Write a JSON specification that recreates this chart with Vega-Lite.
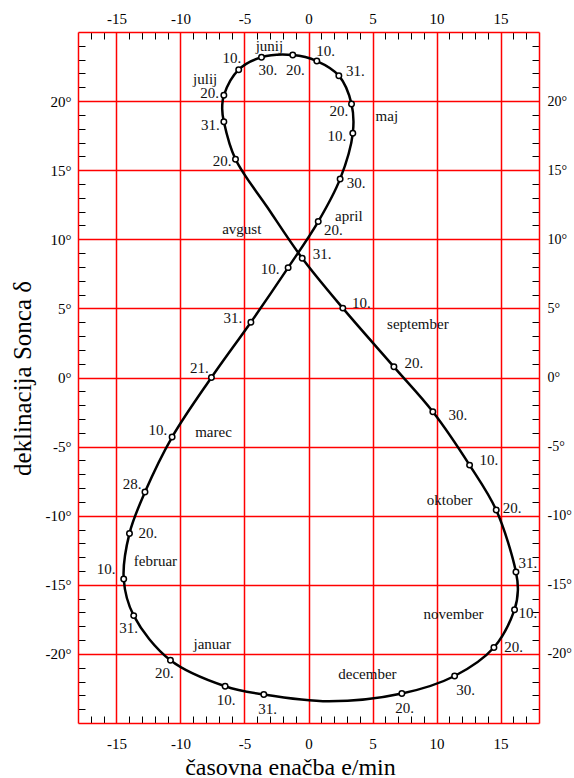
{
  "$schema": "https://vega.github.io/schema/vega-lite/v6.json",
  "width": 461,
  "height": 691,
  "autosize": {"type": "none"},
  "padding": {"left": 78, "top": 32, "right": 35, "bottom": 55},
  "background": "white",
  "config": {
    "view": {"stroke": null},
    "font": "Liberation Serif, DejaVu Serif, serif",
    "axis": {"labelFont": "Liberation Serif, DejaVu Serif, serif", "titleFont": "Liberation Serif, DejaVu Serif, serif"},
    "style": {
      "guide-label": {"font": "Liberation Serif, DejaVu Serif, serif"},
      "guide-title": {"font": "Liberation Serif, DejaVu Serif, serif"}
    }
  },
  "datasets": {
    "curve": [
      {"o": 1, "e": -3.49, "d": -22.94, "m": 1},
      {"o": 2, "e": -6.51, "d": -22.34, "m": 1},
      {"o": 3, "e": -10.78, "d": -20.46, "m": 1},
      {"o": 4, "e": -13.65, "d": -17.23, "m": 1},
      {"o": 5, "e": -14.43, "d": -14.58, "m": 1},
      {"o": 6, "e": -13.98, "d": -11.28, "m": 1},
      {"o": 7, "e": -12.77, "d": -8.29, "m": 1},
      {"o": 8, "e": -10.65, "d": -4.31, "m": 1},
      {"o": 9, "e": -7.58, "d": 0.0, "m": 1},
      {"o": 10, "e": -4.5, "d": 4.0, "m": 1},
      {"o": 11, "e": -1.59, "d": 7.95, "m": 1},
      {"o": 12, "e": 0.76, "d": 11.28, "m": 1},
      {"o": 13, "e": 2.47, "d": 14.37, "m": 1},
      {"o": 14, "e": 3.46, "d": 17.67, "m": 1},
      {"o": 15, "e": 3.36, "d": 19.79, "m": 1},
      {"o": 16, "e": 2.37, "d": 21.84, "m": 1},
      {"o": 17, "e": 0.65, "d": 22.9, "m": 1},
      {"o": 18, "e": -1.23, "d": 23.33, "m": 1},
      {"o": 19, "e": -3.67, "d": 23.17, "m": 1},
      {"o": 20, "e": -5.45, "d": 22.27, "m": 1},
      {"o": 21, "e": -6.61, "d": 20.42, "m": 1},
      {"o": 22, "e": -6.74, "d": 19.45, "m": 0},
      {"o": 23, "e": -6.61, "d": 18.51, "m": 1},
      {"o": 24, "e": -5.7, "d": 15.79, "m": 1},
      {"o": 25, "e": -3.2, "d": 12.3, "m": 0},
      {"o": 26, "e": -0.49, "d": 8.63, "m": 1},
      {"o": 27, "e": 2.68, "d": 5.02, "m": 1},
      {"o": 28, "e": 6.67, "d": 0.77, "m": 1},
      {"o": 29, "e": 9.71, "d": -2.48, "m": 1},
      {"o": 30, "e": 12.58, "d": -6.34, "m": 1},
      {"o": 31, "e": 14.66, "d": -9.59, "m": 1},
      {"o": 32, "e": 16.2, "d": -14.07, "m": 1},
      {"o": 33, "e": 16.35, "d": -15.4, "m": 0},
      {"o": 34, "e": 16.09, "d": -16.8, "m": 1},
      {"o": 35, "e": 14.48, "d": -19.54, "m": 1},
      {"o": 36, "e": 11.41, "d": -21.6, "m": 1},
      {"o": 37, "e": 7.29, "d": -22.87, "m": 1},
      {"o": 38, "e": 1.6, "d": -23.43, "m": 0},
      {"o": 39, "e": -3.49, "d": -22.94, "m": 0}
    ],
    "labels": [
      {"t": "junij", "e": -3.05, "d": 24.0},
      {"t": "10.", "e": 1.33, "d": 23.64},
      {"t": "10.", "e": -5.99, "d": 23.09},
      {"t": "30.", "e": -3.18, "d": 22.25},
      {"t": "20.", "e": -1.02, "d": 22.25},
      {"t": "31.", "e": 3.67, "d": 22.2},
      {"t": "julij", "e": -8.07, "d": 21.6},
      {"t": "20.", "e": -7.73, "d": 20.56},
      {"t": "20.", "e": 2.37, "d": 19.31},
      {"t": "maj", "e": 6.12, "d": 18.92},
      {"t": "31.", "e": -7.66, "d": 18.27},
      {"t": "10.", "e": 2.21, "d": 17.48},
      {"t": "20.", "e": -6.74, "d": 15.67},
      {"t": "30.", "e": 3.72, "d": 14.06},
      {"t": "april", "e": 3.15, "d": 11.71},
      {"t": "20.", "e": 1.95, "d": 10.68},
      {"t": "avgust", "e": -5.21, "d": 10.75},
      {"t": "31.", "e": 1.07, "d": 8.92},
      {"t": "10.", "e": -2.99, "d": 7.84},
      {"t": "10.", "e": 4.12, "d": 5.38},
      {"t": "31.", "e": -5.91, "d": 4.29},
      {"t": "september", "e": 8.54, "d": 3.86},
      {"t": "21.", "e": -8.52, "d": 0.7},
      {"t": "20.", "e": 8.23, "d": 1.04},
      {"t": "30.", "e": 11.67, "d": -2.7},
      {"t": "10.", "e": 14.09, "d": -6.0},
      {"t": "oktober", "e": 11.02, "d": -8.84},
      {"t": "20.", "e": 15.91, "d": -9.45},
      {"t": "10.", "e": -11.77, "d": -3.83},
      {"t": "marec", "e": -7.42, "d": -3.95},
      {"t": "28.", "e": -13.77, "d": -7.71},
      {"t": "20.", "e": -12.55, "d": -11.25},
      {"t": "februar", "e": -11.95, "d": -13.3},
      {"t": "10.", "e": -15.8, "d": -13.83},
      {"t": "31.", "e": -14.04, "d": -18.12},
      {"t": "januar", "e": -7.52, "d": -19.28},
      {"t": "20.", "e": -11.25, "d": -21.37},
      {"t": "10.", "e": -6.43, "d": -23.35},
      {"t": "31.", "e": -3.2, "d": -24.0},
      {"t": "31.", "e": 17.13, "d": -13.42},
      {"t": "november", "e": 11.33, "d": -17.11},
      {"t": "10.", "e": 17.13, "d": -17.04},
      {"t": "20.", "e": 16.02, "d": -19.52},
      {"t": "december", "e": 4.6, "d": -21.44},
      {"t": "30.", "e": 12.27, "d": -22.58},
      {"t": "20.", "e": 7.5, "d": -23.9}
    ]
  },
  "layer": [
    {
      "data": {"name": "curve"},
      "mark": {"type": "line", "interpolate": "catmull-rom", "color": "black", "strokeWidth": 2.5},
      "encoding": {
        "x": {
          "field": "e", "type": "quantitative",
          "scale": {"domain": [-18, 18], "nice": false, "zero": false},
          "axis": {
            "orient": "bottom",
            "values": [-17,-16,-15,-14,-13,-12,-11,-10,-9,-8,-7,-6,-5,-4,-3,-2,-1,0,1,2,3,4,5,6,7,8,9,10,11,12,13,14,15,16,17],
            "labelExpr": "datum.value % 5 === 0 ? '' + datum.value : ''",
            "labelFont": "Liberation Serif, DejaVu Serif, serif", "labelFontSize": 15, "labelColor": "black",
            "labelPadding": 20, "labelOverlap": false, "labelFlush": false,
            "tickSize": -7, "tickColor": "black", "tickWidth": 1,
            "tickOpacity": {"condition": {"test": "datum.value % 5 === 0", "value": 0}, "value": 1},
            "grid": true, "gridColor": "#ff0000", "gridWidth": 1.5,
            "gridOpacity": {"condition": {"test": "datum.value % 5 === 0", "value": 1}, "value": 0},
            "domainColor": "#ff0000", "domainWidth": 1.5,
            "title": "časovna enačba e/min",
            "titleFont": "Liberation Serif, DejaVu Serif, serif", "titleFontSize": 24, "titleFontWeight": "normal", "titleColor": "black",
            "titleX": 212, "titleY": 44, "titleBaseline": "middle", "titleAlign": "center"
          }
        },
        "y": {
          "field": "d", "type": "quantitative",
          "scale": {"domain": [-25, 25], "nice": false, "zero": false},
          "axis": {
            "orient": "left",
            "values": [-24,-23,-22,-21,-20,-19,-18,-17,-16,-15,-14,-13,-12,-11,-10,-9,-8,-7,-6,-5,-4,-3,-2,-1,0,1,2,3,4,5,6,7,8,9,10,11,12,13,14,15,16,17,18,19,20,21,22,23,24],
            "labelExpr": "datum.value % 5 === 0 ? datum.value + '°' : ''",
            "labelFont": "Liberation Serif, DejaVu Serif, serif", "labelFontSize": 15, "labelColor": "black",
            "labelPadding": 14, "labelOverlap": false, "labelFlush": false,
            "tickSize": -7, "tickColor": "black", "tickWidth": 1,
            "tickOpacity": {"condition": {"test": "datum.value % 5 === 0", "value": 0}, "value": 1},
            "grid": true, "gridColor": "#ff0000", "gridWidth": 1.5,
            "gridOpacity": {"condition": {"test": "datum.value % 5 === 0", "value": 1}, "value": 0},
            "domainColor": "#ff0000", "domainWidth": 1.5,
            "title": "deklinacija Sonca δ",
            "titleFont": "Liberation Serif, DejaVu Serif, serif", "titleFontSize": 25, "titleFontWeight": "normal", "titleColor": "black",
            "titleX": -56, "titleY": 346, "titleAngle": -90, "titleBaseline": "middle", "titleAlign": "center"
          }
        },
        "order": {"field": "o", "type": "quantitative"}
      }
    },
    {
      "data": {"name": "curve"},
      "transform": [{"filter": "datum.m == 1"}],
      "mark": {"type": "point", "shape": "circle", "filled": true, "fill": "white", "stroke": "black", "strokeWidth": 1.5, "size": 30, "opacity": 1},
      "encoding": {
        "x": {
          "field": "e", "type": "quantitative",
          "scale": {"domain": [-18, 18], "nice": false, "zero": false},
          "axis": {
            "orient": "top",
            "values": [-17,-16,-15,-14,-13,-12,-11,-10,-9,-8,-7,-6,-5,-4,-3,-2,-1,0,1,2,3,4,5,6,7,8,9,10,11,12,13,14,15,16,17],
            "labelExpr": "datum.value % 5 === 0 ? '' + datum.value : ''",
            "labelFont": "Liberation Serif, DejaVu Serif, serif", "labelFontSize": 15, "labelColor": "black",
            "labelPadding": 13, "labelOverlap": false, "labelFlush": false,
            "tickSize": -7, "tickColor": "black", "tickWidth": 1,
            "tickOpacity": {"condition": {"test": "datum.value % 5 === 0", "value": 0}, "value": 1},
            "grid": false,
            "domainColor": "#ff0000", "domainWidth": 1.5,
            "title": null
          }
        },
        "y": {
          "field": "d", "type": "quantitative",
          "scale": {"domain": [-25, 25], "nice": false, "zero": false},
          "axis": {
            "orient": "right",
            "values": [-24,-23,-22,-21,-20,-19,-18,-17,-16,-15,-14,-13,-12,-11,-10,-9,-8,-7,-6,-5,-4,-3,-2,-1,0,1,2,3,4,5,6,7,8,9,10,11,12,13,14,15,16,17,18,19,20,21,22,23,24],
            "labelExpr": "datum.value % 5 === 0 ? datum.value + '°' : ''",
            "labelFont": "Liberation Serif, DejaVu Serif, serif", "labelFontSize": 14, "labelColor": "black",
            "labelPadding": 15, "labelOverlap": false, "labelFlush": false,
            "tickSize": -7, "tickColor": "black", "tickWidth": 1,
            "tickOpacity": {"condition": {"test": "datum.value % 5 === 0", "value": 0}, "value": 1},
            "grid": false,
            "domainColor": "#ff0000", "domainWidth": 1.5,
            "title": null
          }
        }
      }
    },
    {
      "data": {"name": "labels"},
      "mark": {"type": "text", "font": "Liberation Serif, DejaVu Serif, serif", "fontSize": 15, "color": "#111", "align": "center", "baseline": "middle"},
      "encoding": {
        "x": {"field": "e", "type": "quantitative", "scale": {"domain": [-18, 18], "nice": false, "zero": false}, "axis": null},
        "y": {"field": "d", "type": "quantitative", "scale": {"domain": [-25, 25], "nice": false, "zero": false}, "axis": null},
        "text": {"field": "t"}
      }
    }
  ],
  "resolve": {"axis": {"x": "independent", "y": "independent"}}
}
